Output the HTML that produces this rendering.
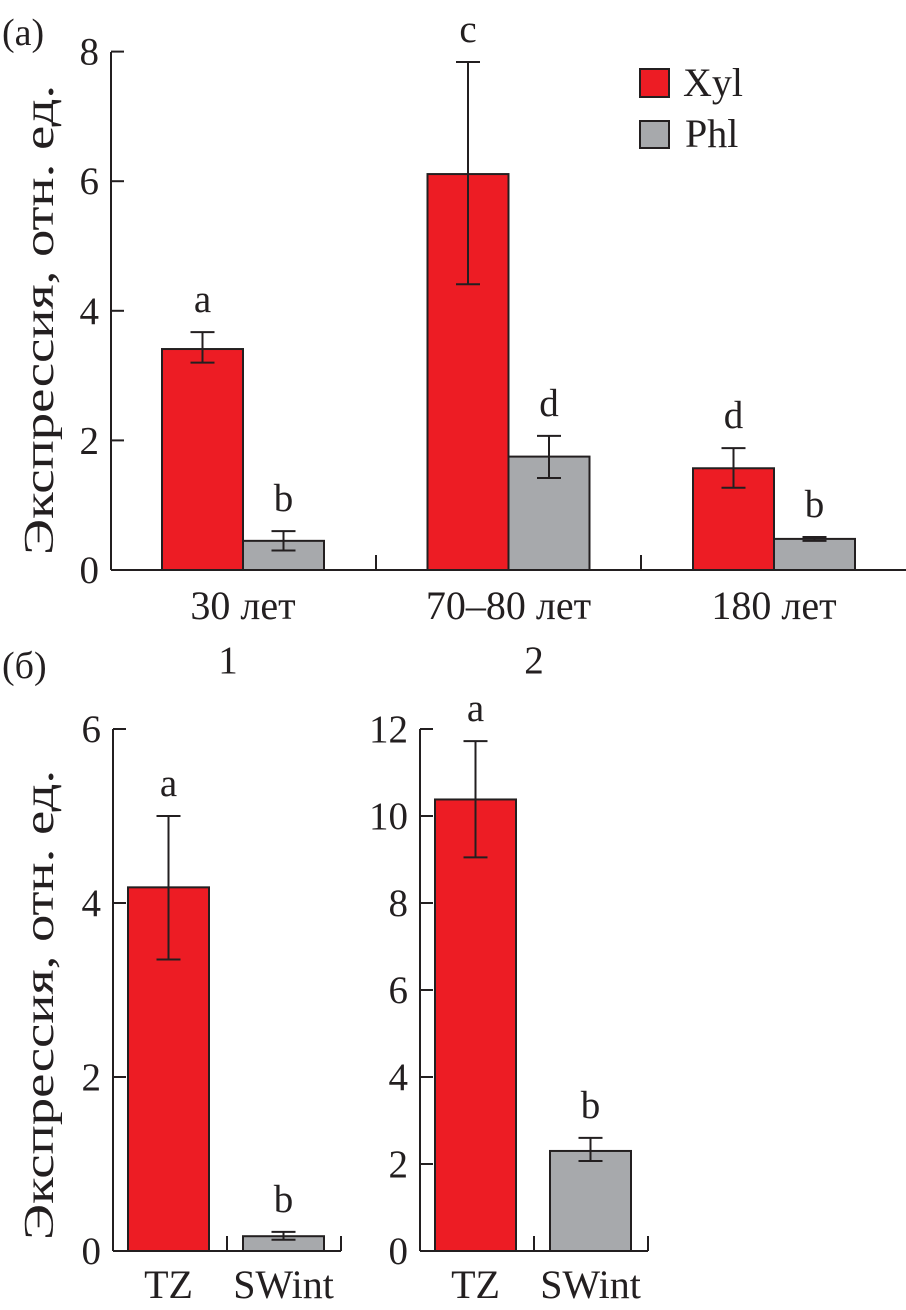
<!DOCTYPE html>
<html><head><meta charset="utf-8"><style>
body{margin:0;background:#fff}
svg{display:block}
text{font-family:"Liberation Serif","DejaVu Serif",serif;fill:#231f20}
</style></head><body>
<svg id="c" width="906" height="1310" viewBox="0 0 906 1310"></svg>
<script>
// Panel (a)
const catsA=["30 лет","70–80 лет","180 лет"];
const xylA=[3.41,6.11,1.57];
const xylErrLoA=[3.2,4.41,1.27];
const xylErrHiA=[3.67,7.84,1.88];
const xylLetA=["a","c","d"];
const phlA=[0.45,1.75,0.48];
const phlErrLoA=[0.3,1.42,0.45];
const phlErrHiA=[0.6,2.07,0.51];
const phlLetA=["b","d","b"];
const ticksA=[0,2,4,6,8];
// Panel (b)
const catsB=["TZ","SWint"];
const b1Vals=[4.18,0.17];
const b1Lo=[3.35,0.13];
const b1Hi=[5.0,0.22];
const b1Let=["a","b"];
const b1Ticks=[0,2,4,6];
const b2Vals=[10.38,2.3];
const b2Lo=[9.05,2.07];
const b2Hi=[11.72,2.6];
const b2Let=["a","b"];
const b2Ticks=[0,2,4,6,8,10,12];

const NS="http://www.w3.org/2000/svg";
const svg=document.getElementById('c');
const RED="#ed1c24",GRAY="#a7a9ac",INK="#231f20";
function mk(tag,attrs,parent){const e=document.createElementNS(NS,tag);for(const k in attrs)e.setAttribute(k,attrs[k]);(parent||svg).appendChild(e);return e;}
function txt(x,y,s,size,anchor){const t=mk('text',{x:x,y:y,'font-size':size,'text-anchor':anchor||'middle','font-family':'"Liberation Serif", "DejaVu Serif", serif'});t.style.fontFamily='"Liberation Serif", serif';t.textContent=s;return t;}
function line(x1,y1,x2,y2){return mk('line',{x1:x1,y1:y1,x2:x2,y2:y2,stroke:INK,'stroke-width':2});}
function bar(x0,x1,yTop,y0,fill){return mk('rect',{x:x0,y:yTop,width:x1-x0,height:y0-yTop,fill:fill,stroke:INK,'stroke-width':2});}
function err(cx,yl,yh){const g=mk('g',{});
g.appendChild(line(cx,yl,cx,yh));g.appendChild(line(cx-12,yh,cx+12,yh));g.appendChild(line(cx-12,yl,cx+12,yl));return g;}

// ---- Panel (a)
const ya=v=>570-v*64.8;
const axA=111;
let l=txt(2,45,"(a)",38,'start');


let ax=line(axA,52,axA,570);


let xa=line(axA,570,906,570);


ticksA.forEach(t=>{const tk=line(axA,ya(t),axA+13,ya(t));


const tl=txt(99,ya(t)+13,String(t),39,'end');

});
[376,641].forEach(x=>{const s=line(x,570,x,555);

});
let yt=txt(0,0,"Экспрессия, отн. ед.",42);
yt.setAttribute('transform','translate(53,320) rotate(-90)');
yt.setAttribute('textLength','470');
yt.setAttribute('lengthAdjust','spacingAndGlyphs');


catsA.forEach((c,i)=>{
 const x0=162+i*265.5;
 const b=bar(x0,x0+81,ya(xylA[i]),570,RED);
 
 
 const e=err(x0+40.5,ya(xylErrLoA[i]),ya(xylErrHiA[i]));
 
 
 const lt=txt(x0+40.5,ya(xylErrHiA[i])-20,xylLetA[i],39);
 
 
 const p=bar(x0+81,x0+162,ya(phlA[i]),570,GRAY);
 
 
 const e2=err(x0+121.5,ya(phlErrLoA[i]),ya(phlErrHiA[i]));
 
 
 const lt2=txt(x0+121.5,ya(phlErrHiA[i])-20,phlLetA[i],39);
 
 
 const cl=txt(x0+81,619,c,40);
 
 
});
let lg1=bar(640,669,69,97,RED);


let lt1=txt(683,96,"Xyl",40,'start');


let lg2=bar(640,669,121,148,GRAY);


let lt2=txt(685,147,"Phl",40,'start');



// ---- Panel (b)
let lb=txt(2,678,"(б)",38,'start');


let ytb=txt(0,0,"Экспрессия, отн. ед.",42);
ytb.setAttribute('transform','translate(53,1005) rotate(-90)');
ytb.setAttribute('textLength','470');
ytb.setAttribute('lengthAdjust','spacingAndGlyphs');


function sub(axX,maxV,ticks,vals,lo,hi,lets,title,titleX,nm){
 const y=v=>1251-v*(522/maxV);
 const a=line(axX,729,axX,1251);
 
 
 const xa=line(axX,1251,axX+228,1251);
 
 
 ticks.forEach(t=>{const tk=line(axX,y(t),axX+13,y(t));
 
 
 const tl=txt(axX-12,y(t)+13,String(t),39,'end');
 
 });
 [axX+114,axX+228].forEach(x=>{const s=line(x,1251,x,1236);
 
 });
 const tt=txt(titleX,673,title,39);
 
 
 catsB.forEach((c,i)=>{
  const x0=axX+15+i*115;
  const b=bar(x0,x0+81,y(vals[i]),1251,i==0?RED:GRAY);
  
  
  const e=err(x0+40.5,y(lo[i]),y(hi[i]));
  
  
  const lt=txt(x0+40.5,y(hi[i])-20,lets[i],39);
  
  
  const cl=txt(x0+40.5,1298,c,40);
  
  
 });
}
sub(113,6,b1Ticks,b1Vals,b1Lo,b1Hi,b1Let,"1",228,'b1');
sub(420,12,b2Ticks,b2Vals,b2Lo,b2Hi,b2Let,"2",534,'b2');
</script>
</body></html>
